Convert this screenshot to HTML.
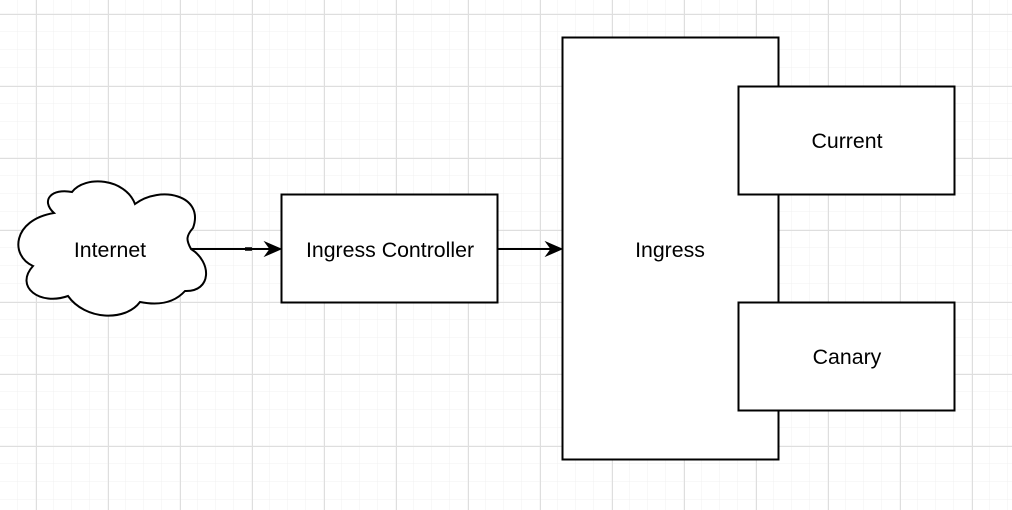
<!DOCTYPE html>
<html><head><meta charset="utf-8"><style>
html,body{margin:0;padding:0;background:#fff;}
svg{display:block;}
text{font-family:"Liberation Sans",Helvetica,Arial,sans-serif;font-size:21.3px;fill:#000;}
</style></head><body>
<svg width="1012" height="510" viewBox="0 0 1012 510" xmlns="http://www.w3.org/2000/svg">
<defs>
<pattern id="minor" x="0" y="-4" width="18" height="18" patternUnits="userSpaceOnUse">
<path d="M18 0V18M0 18H18" fill="none" stroke="#f0f0f0" stroke-width="1"/>
</pattern>
<pattern id="major" x="36" y="14" width="72" height="72" patternUnits="userSpaceOnUse">
<path d="M0.5 0V72M0 0.5H72" fill="none" stroke="#dedede" stroke-width="1"/>
</pattern>
</defs>
<rect width="1012" height="510" fill="url(#minor)"/>
<rect width="1012" height="510" fill="url(#major)"/>

<rect x="562.5" y="37.5" width="216" height="422" fill="#fff" stroke="#000" stroke-width="2"/>
<text x="670" y="257" text-anchor="middle">Ingress</text>

<rect x="738.5" y="86.5" width="216" height="108" fill="#fff" stroke="#000" stroke-width="2"/>
<text x="847" y="148" text-anchor="middle">Current</text>

<rect x="738.5" y="302.5" width="216" height="108" fill="#fff" stroke="#000" stroke-width="2"/>
<text x="847" y="364" text-anchor="middle">Canary</text>

<rect x="281.5" y="194.5" width="216" height="108" fill="#fff" stroke="#000" stroke-width="2"/>
<text x="390" y="257" text-anchor="middle">Ingress Controller</text>

<path d="M54 213 C 40 200, 52 188, 72 192 C 85 175, 125 178, 135 204 C 160 185, 205 195, 193 228 C 186 236, 186 240, 191 249 C 212 262, 212 292, 185 291 C 175 302, 160 306, 140 302 C 125 322, 85 320, 68 296 C 40 306, 14 287, 33 266 C 10 256, 12 220, 54 213 Z" fill="#fff" stroke="#000" stroke-width="2"/>
<text x="110" y="257" text-anchor="middle">Internet</text>

<line x1="191" y1="249" x2="272" y2="249" stroke="#000" stroke-width="2"/>
<line x1="245" y1="249" x2="252" y2="249" stroke="#000" stroke-width="3.5"/>
<path d="M281 249 L265 242 L270 249 L265 256 Z" fill="#000" stroke="#000" stroke-width="1"/>
<line x1="497" y1="249" x2="553" y2="249" stroke="#000" stroke-width="2"/>
<path d="M562 249 L546 242 L551 249 L546 256 Z" fill="#000" stroke="#000" stroke-width="1"/>
</svg>
</body></html>
